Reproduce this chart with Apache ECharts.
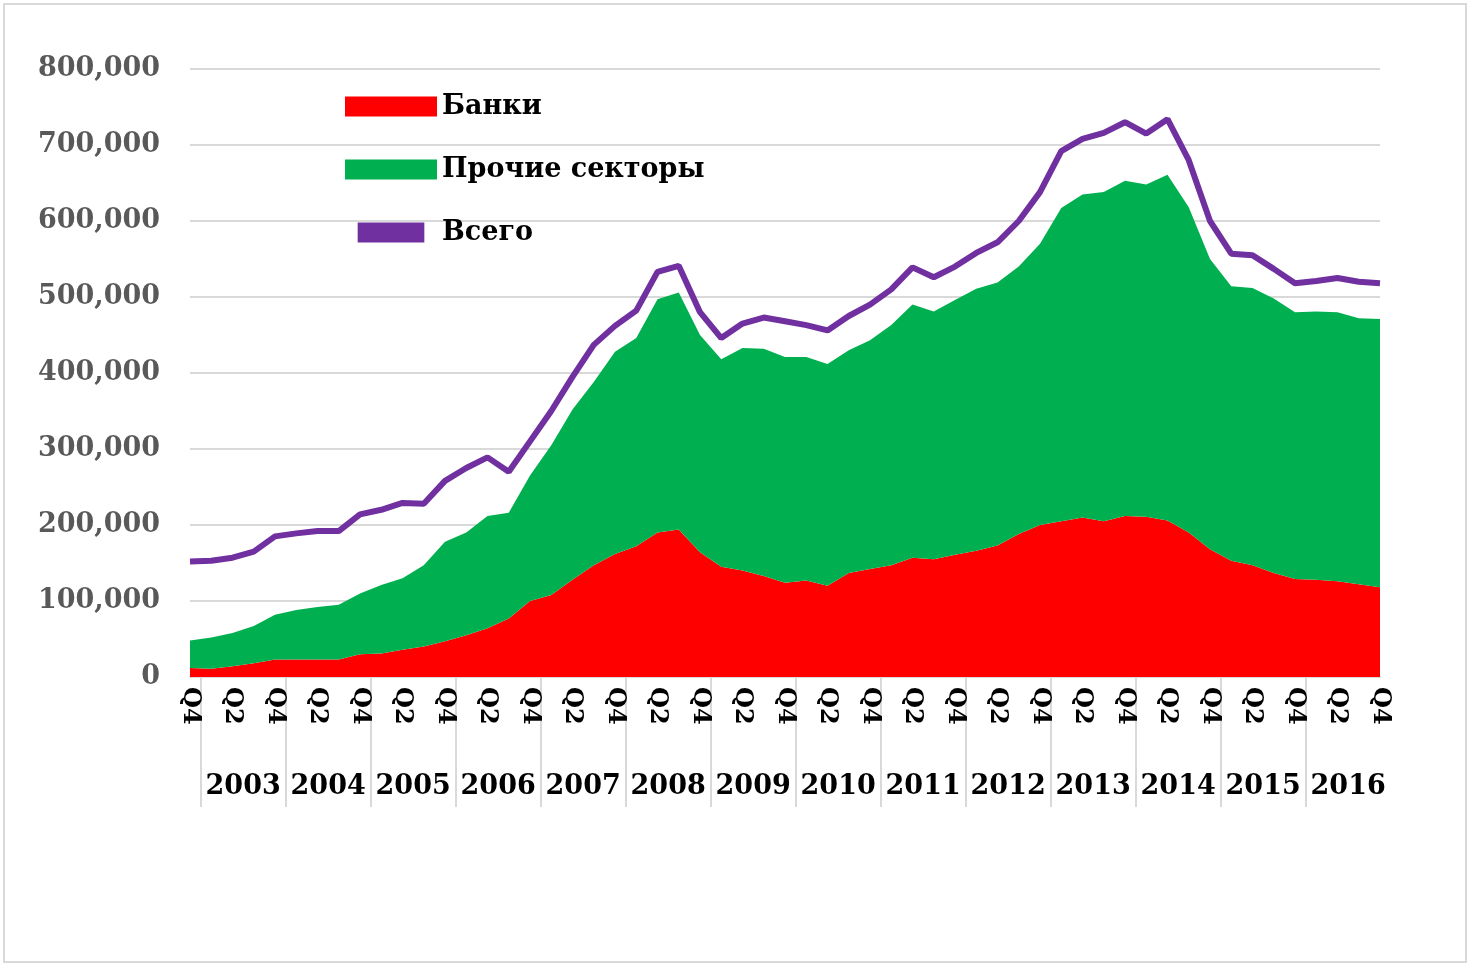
<!DOCTYPE html>
<html><head><meta charset="utf-8">
<script src="https://cdn.jsdelivr.net/npm/echarts@6/dist/echarts.min.js"></script>
<style>
body{margin:0;background:#fff}
#frame{position:absolute;left:3px;top:3px;width:1464px;height:960px;border:2px solid #d9d9d9;box-sizing:border-box}
#chart{width:1472px;height:968px}
</style></head><body>
<div id="frame"></div>
<div id="chart" style="position:absolute;left:0;top:0"></div>
<script>
var quarters = ['Q4'];
for (var y = 2003; y <= 2016; y++) quarters.push('Q1', 'Q2', 'Q3', 'Q4');
var years = ['2002','2003','2004','2005','2006','2007','2008','2009','2010','2011','2012','2013','2014','2015','2016'];

var banks = [12000,11000,14000,18000,23000,23000,23000,23000,30000,31000,36000,40000,47000,55000,64000,77000,
  100000,108000,128000,147000,162000,172000,190000,194000,164000,145000,140000,133000,124000,127000,120000,137000,
  142000,147000,157000,155000,161000,166000,173000,188000,200000,205000,210000,205000,212000,211000,206000,190000,
  168000,153000,147000,137000,129000,128000,126000,122000,118000];
var greenTop = [48000,52000,58000,67000,82000,88000,92000,95000,110000,121000,130000,147000,178000,190000,212000,216000,
  265000,305000,352000,388000,428000,446000,497000,506000,450000,418000,433000,432000,421000,421000,412000,430000,
  443000,463000,490000,481000,496000,511000,519000,540000,570000,617000,635000,638000,653000,648000,661000,618000,
  550000,514000,512000,498000,480000,481000,480000,472000,471000];
var total = [152000,153000,157000,165000,185000,189000,192000,192000,214000,220000,229000,228000,258000,275000,289000,270000,
  310000,350000,395000,437000,462000,482000,533000,541000,480000,446000,465000,473000,468000,463000,456000,475000,
  490000,510000,539000,526000,540000,558000,572000,600000,638000,692000,708000,716000,730000,715000,734000,680000,
  600000,557000,555000,537000,518000,521000,525000,520000,518000];
var others = greenTop.map(function(v, i){ return v - banks[i]; });

var font = 'DejaVu Serif';
var yearCenters = years.map(function(y, i){ return i === 0 ? 0 : 4 * (i - 1) + 2.5; });
var yearTicks = [];
for (var k = 0; k < 15; k++) yearTicks.push(0.5 + 4 * k);

var chart = echarts.init(document.getElementById('chart'));
chart.setOption({
  animation: false,
  grid: {left: 190, right: 92, top: 69, bottom: 291},
  legend: {
    orient: 'vertical', left: 340, top: 88, itemGap: 36, itemWidth: 92, itemHeight: 20,
    textStyle: {fontFamily: font, fontWeight: 'bold', fontSize: 27, color: '#000'},
    data: [{name: 'Банки', icon: 'rect'}, {name: 'Прочие секторы', icon: 'rect'},
           {name: 'Всего', icon: 'path://M0,0 L10,0 L10,3 L0,3 Z'}]
  },
  xAxis: [{
    type: 'category', data: quarters, boundaryGap: false,
    axisLine: {lineStyle: {color: '#d9d9d9', width: 2}},
    axisTick: {show: false},
    axisLabel: {interval: 1, rotate: -90, fontFamily: font, fontWeight: 'bold', fontSize: 24, color: '#000', margin: 10}
  }, {
    type: 'value', min: 0, max: 56, position: 'bottom', offset: 130,
    axisLine: {show: false}, splitLine: {show: false},
    axisTick: {show: true, inside: true, length: 130, customValues: yearTicks, lineStyle: {color: '#d9d9d9', width: 2}},
    axisLabel: {customValues: yearCenters, margin: -34, fontFamily: font, fontWeight: 'bold', fontSize: 27, color: '#000',
      formatter: function(v){ var i = yearCenters.indexOf(v); return i >= 0 ? years[i] : ''; }}
  }],
  yAxis: {
    type: 'value', min: 0, max: 800000, interval: 100000,
    axisLine: {show: false}, axisTick: {show: false},
    splitLine: {lineStyle: {color: '#d9d9d9', width: 2}},
    axisLabel: {fontFamily: font, fontWeight: 'bold', fontSize: 27, color: '#595959', margin: 30,
      formatter: function(v){ return v.toLocaleString('en-US'); }}
  },
  series: [
    {name: 'Банки', type: 'line', stack: 's', data: banks, symbol: 'none', lineStyle: {width: 0},
     itemStyle: {color: '#ff0000'}, areaStyle: {color: '#ff0000', opacity: 1}},
    {name: 'Прочие секторы', type: 'line', stack: 's', data: others, symbol: 'none', lineStyle: {width: 0},
     itemStyle: {color: '#00b050'}, areaStyle: {color: '#00b050', opacity: 1}},
    {name: 'Всего', type: 'line', data: total, symbol: 'none', lineStyle: {width: 6, color: '#7030a0'},
     itemStyle: {color: '#7030a0'}}
  ]
});
</script>
</body></html>
